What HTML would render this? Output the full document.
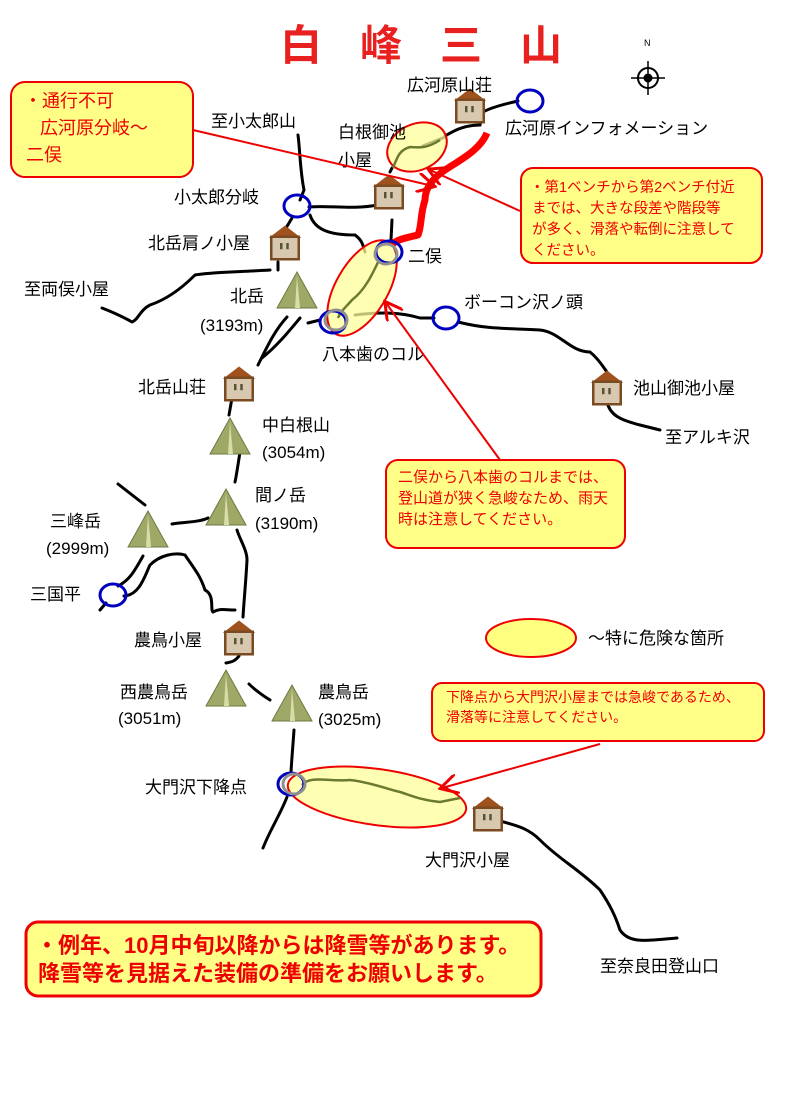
<!DOCTYPE html>
<html><head><meta charset="utf-8"><style>
body{margin:0;background:#fff}
svg{display:block}
text{font-family:"Liberation Sans","Noto Sans CJK JP",sans-serif}
</style></head><body>
<svg width="794" height="1096" viewBox="0 0 794 1096" xmlns="http://www.w3.org/2000/svg">
<defs>
<g id="hut"><g transform="scale(1.25)"><path d="M-13,-4 L0,-14 L13,-4 Z" fill="#a0521e"/><rect x="-11" y="-5" width="22" height="18" fill="#d8c8b0" stroke="#7a4a20" stroke-width="2"/><rect x="-4" y="0" width="2" height="5" fill="#553"/><rect x="1" y="0" width="2" height="5" fill="#553"/></g></g>
<g id="mt"><path d="M0,0 L20,36 L-20,36 Z" fill="#a0a868" stroke="#6a7a40" stroke-width="1"/><path d="M0,4 L3,36 L-2,36 Z" fill="#d8dca8"/></g>
<marker id="ah" markerWidth="10" markerHeight="10" refX="8" refY="5" orient="auto"><path d="M0,0 L9,5 L0,10" fill="none" stroke="#e00" stroke-width="1.5"/></marker>
</defs>

<text x="280" y="60" font-size="42" font-weight="bold" fill="#e82020" letter-spacing="38">白峰三山</text>

<!-- compass -->
<g transform="translate(648,78)" stroke="#000" fill="none">
<circle r="10" stroke-width="2"/><path d="M-17,0 H17 M0,-17 V17" stroke-width="1.5"/><circle r="4" fill="#000"/>
</g>
<text x="644" y="46" font-size="9">N</text>

<!-- trails -->
<g fill="none" stroke="#000" stroke-width="3" stroke-linecap="round">
<path d="M298,135 C300,150 300,170 304,190 L300,200"/>
<path d="M309,207 C330,205 350,210 378,205"/>
<path d="M292,218 L286,228"/>
<path d="M310,215 C315,230 330,235 355,235 C362,240 363,245 365,252"/>
<path d="M392,220 L391,240"/>
<path d="M445,136 C455,130 465,125 480,125 L483,112 C490,108 500,105 518,101"/>
<path d="M423,146 L445,137"/>
<path d="M390,172 L392,168"/>
<path d="M278,270 L278,262"/>
<path d="M270,270 C240,272 210,272 195,275 C180,290 165,300 150,305 C140,310 138,320 132,322 C125,318 115,313 102,308"/>
<path d="M287,317 C275,330 268,345 258,365"/>
<path d="M300,318 C290,330 278,345 262,358"/>
<path d="M320,320 L308,323"/>
<path d="M355,315 C380,312 400,312 420,318 L434,318"/>
<path d="M458,322 C490,330 510,328 540,330 C560,332 570,352 590,352 C600,360 605,370 607,372"/>
<path d="M607,402 C610,415 620,420 640,425 L660,430"/>
<path d="M232,398 L229,415"/>
<path d="M240,452 C238,465 236,478 235,482"/>
<path d="M237,530 C240,540 247,550 247,560 C246,580 244,600 243,617"/>
<path d="M172,524 C185,522 200,522 208,518"/>
<path d="M118,484 L145,505"/>
<path d="M143,556 C135,570 130,580 118,586"/>
<path d="M124,596 C140,595 145,575 150,565 C160,555 175,552 185,555 C195,570 200,575 205,590 C215,595 210,610 213,612 C220,608 225,610 235,610"/>
<path d="M100,610 L106,603"/>
<path d="M239,656 C236,660 233,662 226,663"/>
<path d="M249,684 C255,690 262,695 270,700"/>
<path d="M294,730 C293,745 292,755 291,772"/>
<path d="M287,797 C280,815 270,830 263,848"/>
<path d="M498,820 C510,825 525,825 540,840 C560,860 580,870 600,890 C610,905 615,915 620,930 C630,945 650,940 677,938"/>
</g>
<!-- danger zones -->
<g fill="#ffff99" fill-opacity="0.75" stroke="#e00" stroke-width="2">
<ellipse cx="417" cy="147" rx="31" ry="23" transform="rotate(-25 417 147)"/>
<ellipse cx="362" cy="288" rx="26" ry="53" transform="rotate(30 362 288)"/>
<ellipse cx="377" cy="797" rx="90" ry="28" transform="rotate(8 377 797)"/>
</g>
<g fill="none" stroke="#6a7a30" stroke-width="2.5">
<path d="M393,168 C398,155 400,150 410,147 C420,148 428,148 440,140"/>
<path d="M380,258 C372,275 365,290 352,300 C345,308 340,312 338,318"/>
<path d="M302,785 C310,775 330,782 350,780 C370,782 390,790 400,792 C410,795 420,800 440,802 L460,798"/>
</g>
<!-- red route -->
<path d="M487,133 C480,150 460,160 445,170 C430,180 425,190 425,200 C420,215 422,225 418,235 C405,238 395,240 392,245" fill="none" stroke="#ff0000" stroke-width="7" stroke-linejoin="round"/>

<!-- nodes -->
<g fill="none" stroke="#0000c0" stroke-width="3">
<ellipse cx="530" cy="101" rx="13" ry="11"/>
<ellipse cx="297" cy="206" rx="13" ry="11"/>
<ellipse cx="389" cy="252" rx="13" ry="11"/>
<ellipse cx="333" cy="322" rx="13" ry="11"/>
<ellipse cx="446" cy="318" rx="13" ry="11"/>
<ellipse cx="113" cy="595" rx="13" ry="11"/>
<ellipse cx="291" cy="784" rx="13" ry="11"/>
</g>
<g fill="none" stroke="#909090" stroke-width="3">
<ellipse cx="386" cy="254" rx="11" ry="10"/>
<ellipse cx="336" cy="320" rx="11" ry="10"/>
<ellipse cx="294" cy="784" rx="11" ry="10"/>
</g>

<!-- huts -->
<use href="#hut" x="470" y="106"/>
<use href="#hut" x="389" y="192"/>
<use href="#hut" x="285" y="243"/>
<use href="#hut" x="239" y="384"/>
<use href="#hut" x="607" y="388"/>
<use href="#hut" x="239" y="638"/>
<use href="#hut" x="488" y="814"/>
<!-- mountains -->
<use href="#mt" x="297" y="272"/>
<use href="#mt" x="230" y="418"/>
<use href="#mt" x="226" y="489"/>
<use href="#mt" x="148" y="511"/>
<use href="#mt" x="226" y="670"/>
<use href="#mt" x="292" y="685"/>

<!-- labels -->
<g font-size="17" fill="#000">
<text x="407" y="91">広河原山荘</text>
<text x="505" y="134">広河原インフォメーション</text>
<text x="211" y="127">至小太郎山</text>
<text x="338" y="138">白根御池</text>
<text x="338" y="166">小屋</text>
<text x="174" y="203">小太郎分岐</text>
<text x="148" y="249">北岳肩ノ小屋</text>
<text x="408" y="262">二俣</text>
<text x="24" y="295">至両俣小屋</text>
<text x="230" y="302">北岳</text>
<text x="200" y="331">(3193m)</text>
<text x="464" y="308">ボーコン沢ノ頭</text>
<text x="322" y="360">八本歯のコル</text>
<text x="138" y="393">北岳山荘</text>
<text x="633" y="394">池山御池小屋</text>
<text x="665" y="443">至アルキ沢</text>
<text x="262" y="431">中白根山</text>
<text x="262" y="458">(3054m)</text>
<text x="255" y="501">間ノ岳</text>
<text x="255" y="529">(3190m)</text>
<text x="50" y="527">三峰岳</text>
<text x="46" y="554">(2999m)</text>
<text x="30" y="600">三国平</text>
<text x="134" y="646">農鳥小屋</text>
<text x="120" y="698">西農鳥岳</text>
<text x="118" y="724">(3051m)</text>
<text x="318" y="698">農鳥岳</text>
<text x="318" y="725">(3025m)</text>
<text x="145" y="793">大門沢下降点</text>
<text x="425" y="866">大門沢小屋</text>
<text x="600" y="972">至奈良田登山口</text>
<text x="588" y="644">～特に危険な箇所</text>
</g>

<!-- legend -->
<ellipse cx="531" cy="638" rx="45" ry="19" fill="#ffff80" stroke="#e00" stroke-width="2"/>

<!-- callout lines -->
<g stroke="#e00" stroke-width="2" fill="none" marker-end="url(#ah)">
<line x1="193" y1="130" x2="433" y2="186"/>
<line x1="520" y1="211" x2="430" y2="170"/>
<line x1="500" y1="460" x2="386" y2="303"/>
<line x1="600" y1="744" x2="442" y2="788"/>
</g>

<!-- callouts -->
<g fill="#ffff88" stroke="#e00" stroke-width="2">
<rect x="11" y="82" width="182" height="95" rx="14"/>
<rect x="521" y="168" width="241" height="95" rx="12"/>
<rect x="386" y="460" width="239" height="88" rx="12"/>
<rect x="432" y="683" width="332" height="58" rx="10"/>
<rect x="26" y="922" width="515" height="74" rx="12" stroke-width="3"/>
</g>
<g fill="#e00" font-size="18">
<text x="24" y="107">・通行不可</text>
<text x="40" y="134">広河原分岐～</text>
<text x="26" y="161">二俣</text>
</g>
<g fill="#e00" font-size="14.5">
<text x="530" y="192">・第1ベンチから第2ベンチ付近</text>
<text x="532" y="213">までは、大きな段差や階段等</text>
<text x="532" y="234">が多く、滑落や転倒に注意して</text>
<text x="532" y="255">ください。</text>
</g>
<g fill="#e00" font-size="15">
<text x="398" y="482">二俣から八本歯のコルまでは、</text>
<text x="398" y="503">登山道が狭く急峻なため、雨天</text>
<text x="398" y="524">時は注意してください。</text>
</g>
<g fill="#e00" font-size="14">
<text x="446" y="702">下降点から大門沢小屋までは急峻であるため、</text>
<text x="446" y="722">滑落等に注意してください。</text>
</g>
<g fill="#e00" font-size="22" font-weight="bold">
<text x="36" y="953">・例年、10月中旬以降からは降雪等があります。</text>
<text x="38" y="981">降雪等を見据えた装備の準備をお願いします。</text>
</g>
</svg>
</body></html>
